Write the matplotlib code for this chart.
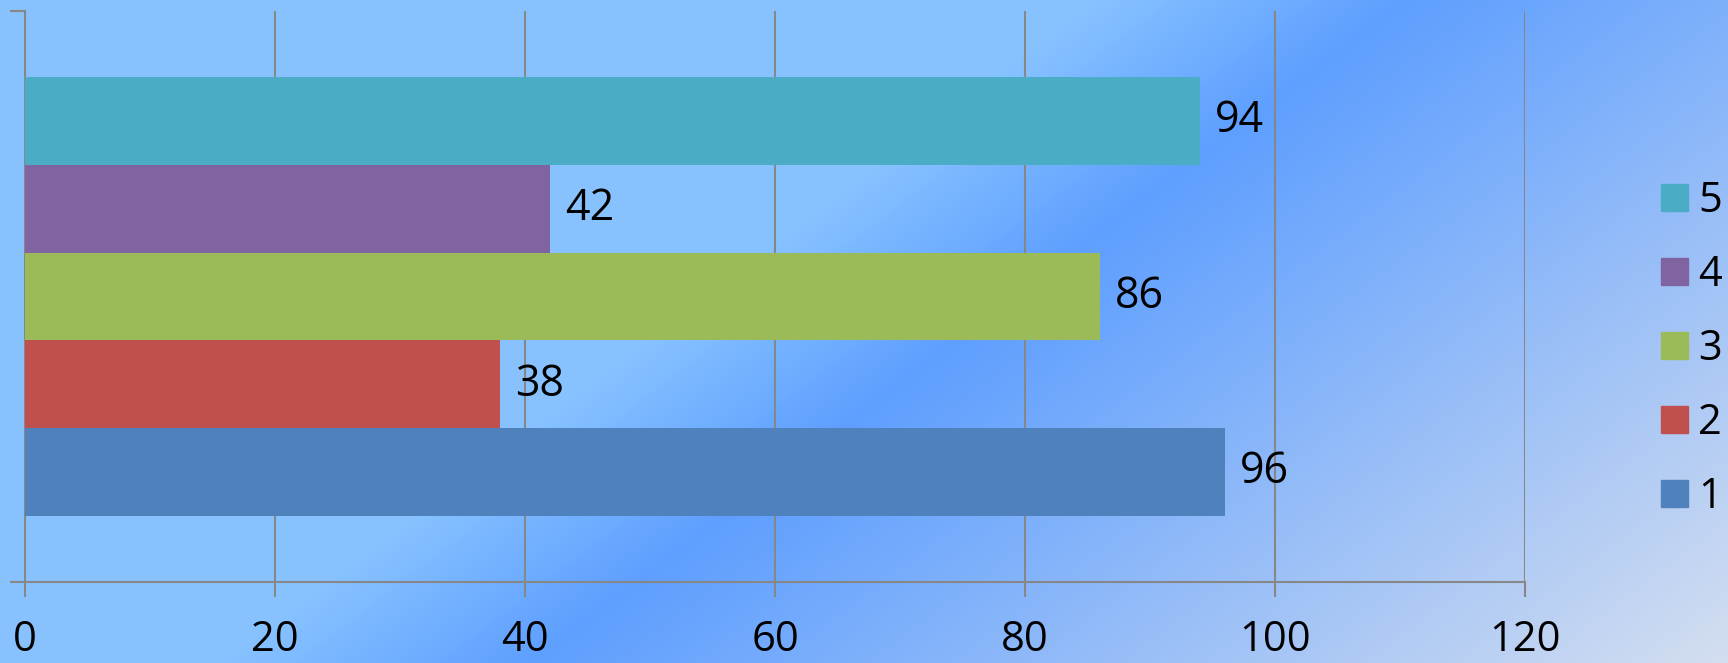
import numpy as np
import matplotlib
matplotlib.use("Agg")
import matplotlib.pyplot as plt
from matplotlib.colors import LinearSegmentedColormap
from matplotlib.patches import Patch

series = ["1", "2", "3", "4", "5"]
values = [96, 38, 86, 42, 94]
colors = ["#4F81BD", "#C0504D", "#9BBB59", "#8064A2", "#4BACC6"]
xticks = [0, 20, 40, 60, 80, 100, 120]

plt.rcParams['font.family'] = ['Open Sans', 'DejaVu Sans']

W, H = 1728, 663
fig = plt.figure(figsize=(W / 100, H / 100), dpi=100)

# diagonal gradient background
bg = fig.add_axes([0, 0, 1, 1], zorder=-10)
xx, yy = np.meshgrid(np.arange(W), np.arange(H))
t = (xx + 1.32 * yy) / (W + 1.32 * H)
cmap = LinearSegmentedColormap.from_list("bg", [(0, "#87C2FF"), (0.42, "#87C2FF"),
                                                (0.54, "#5E9FFF"), (1.0, "#D4DEF0")])
bg.imshow(t, cmap=cmap, vmin=0, vmax=1, aspect="auto", interpolation="bilinear")
bg.axis("off")

ax = fig.add_axes([25 / W, 81 / H, 1500 / W, 571 / H])
ax.patch.set_alpha(0)

ypos = np.arange(len(series))
bars = ax.barh(ypos, values, height=1.0, color=colors, zorder=3)
for b, v in zip(bars, values):
    ax.annotate(str(v), (v, b.get_y() + b.get_height() / 2), xytext=(11, 0),
                textcoords="offset points", va="center", ha="left", fontsize=31, zorder=4)

ax.set_xlim(0, 120)
ax.set_ylim(-1.25, 5.25)
ax.set_xticks(xticks)
ax.set_yticks([-1.25, 5.25])
ax.set_yticklabels([])
ax.xaxis.grid(True, color="#878787", linewidth=1.5, zorder=1)
ax.set_axisbelow(True)
for s in ["top", "right"]:
    ax.spines[s].set_visible(False)
for s in ["left", "bottom"]:
    ax.spines[s].set_color("#878787")
    ax.spines[s].set_linewidth(1.5)
ax.tick_params(axis="both", direction="out", length=10.8, width=1.5, color="#878787",
               labelsize=30, pad=16)

handles = [Patch(color=c, label=s) for s, c in zip(series, colors)][::-1]
fig.legend(handles=handles, loc="center left", bbox_to_anchor=(1661 / W, 1 - 349 / H),
           frameon=False, fontsize=30, borderpad=0, borderaxespad=0,
           handlelength=0.65, handleheight=0.62, handletextpad=0.25, labelspacing=0.77)

fig.savefig("out.png", dpi=100)
